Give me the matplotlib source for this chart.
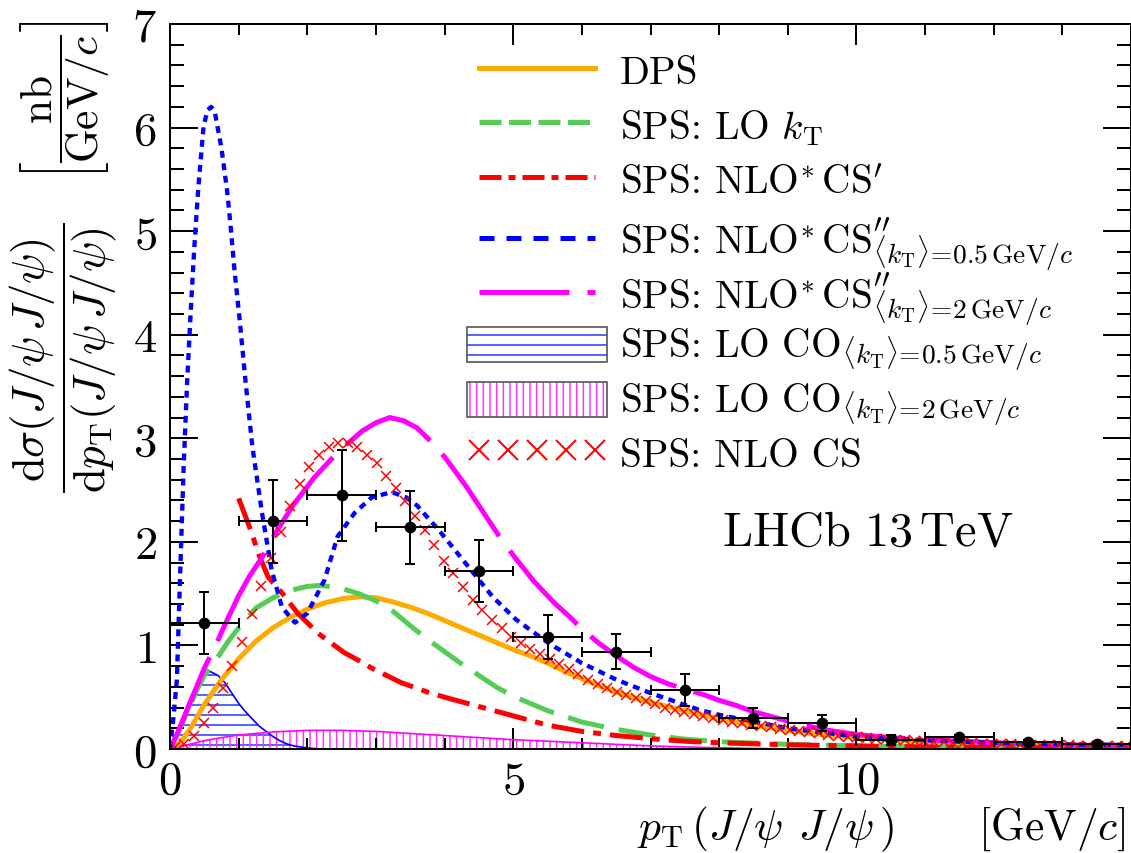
import numpy as np
import matplotlib
matplotlib.use('Agg')
from matplotlib import pyplot as plt
from matplotlib.lines import Line2D
from matplotlib.patches import Patch, Rectangle
from matplotlib.legend import Legend
from matplotlib.legend_handler import HandlerBase
from matplotlib.ticker import MultipleLocator, FuncFormatter

plt.rcParams['mathtext.fontset'] = 'cm'
plt.rcParams['hatch.linewidth'] = 0.9

orange = '#ffaa00'
green = '#55cc55'
red = '#ff0000'
blue = '#0000ff'
magenta = '#ff00ff'

# LHCb measurement, 1 GeV/c bins
data_x = [0.5, 1.5, 2.5, 3.5, 4.5, 5.5, 6.5, 7.5, 8.5, 9.5, 10.5, 11.5, 12.5, 13.5]
data_y = [1.22, 2.20, 2.45, 2.14, 1.72, 1.08, 0.94, 0.57, 0.30, 0.25, 0.09, 0.12, 0.07, 0.05]
data_yerr = [0.30, 0.40, 0.44, 0.35, 0.30, 0.21, 0.17, 0.155, 0.10, 0.08, 0.05, 0.02, 0.02, 0.015]
data_xerr = [0.5] * 14

# DPS
dps_x = [0, 0.15, 0.3, 0.5, 0.75, 1.0, 1.25, 1.5, 1.75, 2.0, 2.25, 2.5, 2.75, 3.0, 3.25,
         3.5, 3.75, 4.0, 4.25, 4.5, 4.75, 5.0, 5.25, 5.5, 5.75, 6.0, 6.25, 6.5, 6.75, 7.0,
         7.25, 7.5, 8.0, 8.5, 9.0, 9.5, 10.0, 10.5, 11.0, 12.0, 13.0, 14.0]
dps_y = [0, 0.06, 0.2, 0.43, 0.67, 0.87, 1.04, 1.17, 1.27, 1.35, 1.41, 1.45, 1.47, 1.46, 1.42,
         1.37, 1.31, 1.24, 1.17, 1.10, 1.03, 0.96, 0.90, 0.83, 0.75, 0.68, 0.61, 0.55, 0.50, 0.45,
         0.41, 0.37, 0.29, 0.23, 0.18, 0.14, 0.11, 0.09, 0.07, 0.05, 0.035, 0.025]

# SPS: LO kT
lokt_x = [0, 0.1, 0.2, 0.3, 0.4, 0.5, 0.6, 0.7, 0.85, 1.0, 1.25, 1.5, 1.75, 2.0, 2.2, 2.5,
          2.75, 3.0, 3.25, 3.5, 3.75, 4.0, 4.25, 4.5, 4.75, 5.0, 5.5, 6.0, 6.5, 7.0, 7.5, 8.0,
          9.0, 10.0, 11.0, 12.0, 13.0, 14.0]
lokt_y = [0, 0.13, 0.28, 0.43, 0.58, 0.71, 0.81, 0.89, 1.04, 1.17, 1.36, 1.46, 1.53, 1.57, 1.58, 1.55,
          1.50, 1.43, 1.33, 1.19, 1.06, 0.94, 0.82, 0.71, 0.60, 0.51, 0.37, 0.26, 0.19, 0.135, 0.095, 0.07,
          0.045, 0.03, 0.02, 0.015, 0.01, 0.008]

# SPS: NLO* CS'
cs1_x = [1.0, 1.16, 1.31, 1.43, 1.64, 1.86, 2.03, 2.15, 2.54, 2.79, 2.94, 3.37, 3.75, 4.0,
         4.5, 5.0, 5.5, 6.0, 6.5, 7.0, 7.5, 8.0, 9.0, 10.0, 11.0, 12.0, 13.0, 14.0]
cs1_y = [2.42, 2.14, 1.85, 1.66, 1.50, 1.31, 1.20, 1.12, 0.93, 0.84, 0.78, 0.64, 0.55, 0.50,
         0.41, 0.32, 0.23, 0.17, 0.13, 0.10, 0.075, 0.06, 0.04, 0.03, 0.02, 0.015, 0.01, 0.008]

# SPS: NLO* CS'', <kT> = 0.5 GeV/c
cs05_x = [0, 0.05, 0.1, 0.145, 0.2, 0.25, 0.3, 0.35, 0.41, 0.49, 0.55, 0.6, 0.65, 0.75, 0.83,
          0.88, 0.94, 1.02, 1.1, 1.2, 1.34, 1.48, 1.63, 1.82, 2.0, 2.25, 2.44, 2.69, 2.94, 3.23,
          3.44, 3.6, 3.92, 4.31, 4.7, 5.04, 5.52, 6.0, 6.5, 7.0, 7.7, 8.0, 9.0, 10.0, 11.0, 12.0,
          13.0, 14.0]
cs05_y = [0, 0.3, 0.67, 1.63, 2.75, 3.55, 4.2, 4.8, 5.4, 6.02, 6.17, 6.2, 6.16, 5.8, 5.4,
          5.07, 4.62, 4.11, 3.55, 2.92, 2.28, 1.73, 1.37, 1.22, 1.31, 1.63, 2.05, 2.28, 2.43, 2.48,
          2.43, 2.35, 2.11, 1.79, 1.47, 1.25, 1.02, 0.83, 0.67, 0.54, 0.38, 0.33, 0.2, 0.12, 0.085, 0.06,
          0.045, 0.04]

# SPS: NLO* CS'', <kT> = 2 GeV/c
cs2_x = [0, 0.1, 0.2, 0.3, 0.4, 0.5, 0.65, 0.8, 1.0, 1.15, 1.35, 1.55, 1.8, 2.1, 2.45, 2.8,
         3.0, 3.2, 3.4, 3.6, 3.8, 4.0, 4.3, 4.6, 4.8, 5.0, 5.3, 5.6, 5.8, 6.0, 6.25, 6.5, 6.75,
         7.0, 7.25, 7.5, 7.75, 8.0, 8.25, 8.5, 9.0, 9.5, 10.0, 10.5, 11.0, 12.0, 13.0, 14.0]
cs2_y = [0, 0.14, 0.3, 0.46, 0.62, 0.78, 0.98, 1.2, 1.48, 1.66, 1.86, 2.1, 2.36, 2.62, 2.87, 3.07,
         3.15, 3.2, 3.17, 3.1, 2.97, 2.82, 2.55, 2.25, 2.05, 1.87, 1.62, 1.41, 1.29, 1.16, 1.02, 0.9, 0.79,
         0.7, 0.63, 0.58, 0.53, 0.47, 0.42, 0.36, 0.27, 0.19, 0.14, 0.11, 0.09, 0.06, 0.04, 0.03]

# SPS: LO CO, <kT> = 0.5 GeV/c
co05_x = [0, 0.1, 0.2, 0.3, 0.4, 0.5, 0.58, 0.7, 0.8, 0.9, 1.0, 1.1, 1.2, 1.3, 1.4, 1.5,
          1.6, 1.7, 1.8, 2.0, 2.2, 14.0]
co05_y = [0, 0.15, 0.33, 0.5, 0.63, 0.72, 0.75, 0.71, 0.64, 0.54, 0.44, 0.36, 0.29, 0.22, 0.17, 0.12,
          0.08, 0.05, 0.03, 0.01, 0, 0]

# SPS: LO CO, <kT> = 2 GeV/c
co2_x = [0, 0.25, 0.5, 0.75, 1.0, 1.5, 2.0, 2.5, 3.0, 3.5, 4.0, 4.5, 5.0, 5.5, 6.0, 6.5,
         7.0, 7.5, 8.0, 8.5, 9.0, 14.0]
co2_y = [0, 0.04, 0.08, 0.11, 0.135, 0.165, 0.18, 0.18, 0.17, 0.15, 0.13, 0.11, 0.09, 0.075, 0.06, 0.045,
         0.03, 0.02, 0.012, 0.006, 0.0, 0.0]

# SPS: NLO CS, one point per 0.14 GeV/c
nlo_x = [0.07, 0.21, 0.35, 0.49, 0.63, 0.77, 0.91, 1.05, 1.19, 1.33, 1.47, 1.61, 1.75, 1.89,
         2.03, 2.17, 2.31, 2.45, 2.59, 2.73, 2.87, 3.01, 3.15, 3.29, 3.43, 3.57, 3.71, 3.85,
         3.99, 4.13, 4.27, 4.41, 4.55, 4.69, 4.83, 4.97, 5.11, 5.25, 5.39, 5.53, 5.67, 5.81,
         5.95, 6.09, 6.23, 6.37, 6.51, 6.65, 6.79, 6.93, 7.07, 7.21, 7.35, 7.49, 7.63, 7.77,
         7.91, 8.05, 8.19, 8.33, 8.47, 8.61, 8.75, 8.89, 9.03, 9.17, 9.31, 9.45, 9.59, 9.73,
         9.87, 10.01, 10.15, 10.29, 10.43, 10.57, 10.71, 10.85, 10.99, 11.13, 11.27, 11.41,
         11.55, 11.69, 11.83, 11.97, 12.11, 12.25, 12.39, 12.53, 12.67, 12.81, 12.95, 13.09,
         13.23, 13.37, 13.51, 13.65, 13.79, 13.93]
nlo_y = [0.02, 0.05, 0.13, 0.25, 0.40, 0.59, 0.80, 1.03, 1.30, 1.57, 1.84, 2.10, 2.35, 2.56,
         2.72, 2.84, 2.92, 2.95, 2.95, 2.92, 2.84, 2.76, 2.64, 2.52, 2.39, 2.25, 2.11, 1.97,
         1.82, 1.70, 1.56, 1.44, 1.34, 1.25, 1.17, 1.08, 1.02, 0.97, 0.92, 0.87, 0.82, 0.77,
         0.72, 0.67, 0.63, 0.59, 0.55, 0.52, 0.49, 0.46, 0.43, 0.40, 0.38, 0.36, 0.34, 0.32,
         0.30, 0.28, 0.26, 0.25, 0.23, 0.22, 0.21, 0.19, 0.18, 0.17, 0.16, 0.15, 0.14, 0.13,
         0.12, 0.115, 0.11, 0.10, 0.095, 0.09, 0.085, 0.08, 0.075, 0.07, 0.066, 0.062,
         0.058, 0.055, 0.052, 0.05, 0.047, 0.045, 0.043, 0.041, 0.039, 0.037, 0.035, 0.034,
         0.032, 0.031, 0.030, 0.029, 0.028, 0.027]

kt05 = r'\langle k_{\mathrm{T}}\rangle\!=\!0.5\,\mathrm{GeV}/c'
kt2 = r'\langle k_{\mathrm{T}}\rangle\!=\!2\,\mathrm{GeV}/c'
legend_labels = [
    'DPS',
    r'SPS: LO $k_{\mathrm{T}}$',
    r'SPS: $\mathrm{NLO}^{*}\,\mathrm{CS}^{\prime}$',
    r'SPS: $\mathrm{NLO}^{*}\,\mathrm{CS}^{\prime\prime}_{' + kt05 + '}$',
    r'SPS: $\mathrm{NLO}^{*}\,\mathrm{CS}^{\prime\prime}_{' + kt2 + '}$',
    r'SPS: LO $\mathrm{CO}_{' + kt05 + '}$',
    r'SPS: LO $\mathrm{CO}_{' + kt2 + '}$',
    'SPS: NLO CS',
]


class HatchBox(HandlerBase):
    """Framed hatched box, a bit shorter than the legend row."""

    def __init__(self, color, hatch):
        super().__init__()
        self.color = color
        self.hatch = hatch

    def create_artists(self, legend, orig_handle, xdescent, ydescent, width, height,
                       fontsize, trans):
        h = 0.9 * fontsize
        y0 = -ydescent + (height - h) / 2
        fill = Rectangle((-xdescent, y0), width, h, facecolor='white', edgecolor=self.color,
                         hatch=self.hatch, lw=0, transform=trans)
        frame = Rectangle((-xdescent, y0), width, h, facecolor='none', edgecolor='#555555',
                          lw=1.0, transform=trans)
        return [fill, frame]


fig = plt.figure(figsize=(1131 / 120, 853 / 120), dpi=120)
ax = fig.add_axes([170 / 1131, 1 - 749 / 853, 961 / 1131, 725 / 853])

# hatched colour-octet bands
ax.fill_between(co05_x, co05_y, facecolor='none', edgecolor='#2233ff', hatch='--', lw=0)
ax.plot(co05_x, co05_y, color=blue, lw=1.0)
ax.fill_between(co2_x, co2_y, facecolor='none', edgecolor='#ff33ff', hatch='|||', lw=0)
ax.plot(co2_x, co2_y, color=magenta, lw=1.0)

ax.plot(dps_x, dps_y, color=orange, lw=3.0, solid_capstyle='butt')
ax.plot(lokt_x, lokt_y, color=green, lw=3.0, dashes=(7.4, 3.0))
ax.plot(cs1_x, cs1_y, color=red, lw=3.0, dashes=(6.6, 1.8, 1.6, 1.8))
ax.plot(cs2_x, cs2_y, color=magenta, lw=3.0, dashes=(20, 3.6))
ax.plot(cs05_x, cs05_y, color=blue, lw=2.6, dashes=(1.6, 1.3))
ax.plot(nlo_x, nlo_y, 'x', color=red, ms=5.5, mew=0.9)

ax.errorbar(data_x, data_y, xerr=data_xerr, yerr=data_yerr, fmt='o', color='black',
            ms=6, lw=1.2, capsize=3, capthick=1.2, zorder=10)

ax.set_xlim(0, 14)
ax.set_ylim(0, 7)
ax.xaxis.set_major_locator(MultipleLocator(5))
ax.xaxis.set_minor_locator(MultipleLocator(1))
ax.yaxis.set_major_locator(MultipleLocator(1))
ax.yaxis.set_minor_locator(MultipleLocator(0.2))
fmt = FuncFormatter(lambda v, p: r'$%d$' % round(v))
ax.xaxis.set_major_formatter(fmt)
ax.yaxis.set_major_formatter(fmt)
ax.tick_params(which='both', direction='in', top=True, right=True, width=1.2, labelsize=28)
ax.tick_params(axis='y', which='major', length=16.8, pad=8)
ax.tick_params(axis='y', which='minor', length=8.4)
ax.tick_params(axis='x', which='major', length=12.6, pad=6)
ax.tick_params(axis='x', which='minor', length=6.6)
for s in ax.spines.values():
    s.set_linewidth(1.2)

co05_handle = Patch()
co2_handle = Patch()
handles = [
    Line2D([], [], color=orange, lw=3.0),
    Line2D([], [], color=green, lw=3.0, dashes=(4.4, 1.5)),
    Line2D([], [], color=red, lw=3.0, dashes=(4.4, 1.4, 1.4, 1.4)),
    Line2D([], [], color=blue, lw=3.0, dashes=(3.0, 2.4)),
    Line2D([], [], color=magenta, lw=3.0, dashes=(18, 3.6)),
    co05_handle,
    co2_handle,
    Line2D([], [], color=red, ls='none', marker='x', ms=12, mew=1.2),
]
# one single-row legend per entry so that every row gets the same pitch
legend_top = 0.9625
row_pitch = 0.0754
for i, (h, lab) in enumerate(zip(handles, legend_labels)):
    leg = Legend(ax, [h], [lab], loc='upper left',
                 bbox_to_anchor=(0.309, legend_top - i * row_pitch),
                 frameon=False, prop={'family': 'cmr10', 'size': 23.5},
                 handlelength=3.57, handleheight=1.2, handletextpad=0.33,
                 borderaxespad=0, borderpad=0, numpoints=5,
                 handler_map={co05_handle: HatchBox('#2233ff', '--'),
                              co2_handle: HatchBox('#ff33ff', '|||')})
    ax.add_artist(leg)

ax.text(0.574, 0.281, r'$\mathrm{LHCb\ 13\,TeV}$', transform=ax.transAxes,
        ha='left', va='baseline', fontsize=29)
ax.text(0.994, -0.126,
        r'$p_{\mathrm{T}}\,(J/\psi\;\,J/\psi\,)\qquad\,[\mathrm{GeV}/c]$',
        transform=ax.transAxes, ha='right', va='baseline', fontsize=26)

fig.text(63 / 1131, 1 - 358 / 853,
         r'$\dfrac{\mathrm{d}\sigma(J/\psi\,J/\psi)}{\mathrm{d}p_{\mathrm{T}}(J/\psi\,J/\psi)}$',
         rotation=90, ha='center', va='center', fontsize=27)
fig.text(65 / 1131, 1 - 100 / 853, r'$\left[\dfrac{\mathrm{nb}}{\mathrm{GeV}/c}\right]$',
         rotation=90, ha='center', va='center', fontsize=26)

fig.savefig('out.png', dpi=120)
